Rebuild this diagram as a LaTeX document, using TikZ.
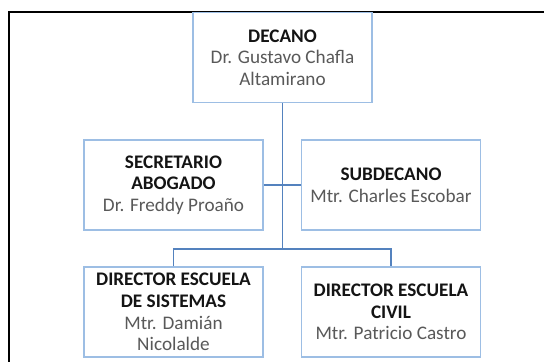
\documentclass[tikz,border=0pt]{standalone}
\usepackage{fontspec}
\setmainfont{Carlito}
\usepackage{tikz}
\usetikzlibrary{positioning}

\definecolor{bordeazul}{RGB}{157,190,228}
\definecolor{lineaazul}{RGB}{84,130,190}
\definecolor{grisnombre}{RGB}{89,89,89}
\definecolor{negrotitulo}{RGB}{20,20,20}

\tikzset{
	cargo/.style={draw=bordeazul, line width=1.1pt, fill=white, minimum width=134pt, minimum height=67.5pt, inner sep=0pt, align=center, font=\fontsize{14.4}{16.2}\selectfont},
	conector/.style={draw=lineaazul, line width=0.9pt},
	marco/.style={draw=black, line width=1.5pt}
}
\newcommand{\titulo}[1]{\textcolor{negrotitulo}{\textbf{#1}}}
\newcommand{\nombre}[1]{\textcolor{grisnombre}{#1}}

\begin{document}
\begin{tikzpicture}[x=0.75pt, y=-0.75pt]
	\useasboundingbox (0, 0) rectangle (544, 362);

	\coordinate (marcoder) at (544, 12);
	\coordinate (marcoinf) at (9, 362);
	\draw[marco] (marcoder) -| (marcoinf);

	\node[cargo] (decano) at (282.5, 57.5) {\titulo{DECANO}\\\nombre{Dr. Gustavo Chafla}\\\nombre{Altamirano}};
	\node[cargo] (secretario) at (173.5, 185) {\titulo{SECRETARIO}\\\titulo{ABOGADO}\\\nombre{Dr. Freddy Proaño}};
	\node[cargo] (subdecano) at (391, 185) {\titulo{SUBDECANO}\\\nombre{Mtr. Charles Escobar}};
	\node[cargo] (dirsistemas) at (173.5, 312) {\titulo{DIRECTOR ESCUELA}\\\titulo{DE SISTEMAS}\\\nombre{Mtr. Damián}\\\nombre{Nicolalde}};
	\node[cargo] (dircivil) at (391, 312) {\titulo{DIRECTOR ESCUELA}\\\titulo{CIVIL}\\\nombre{Mtr. Patricio Castro}};

	\coordinate (bus) at (282.5, 249);

	\draw[conector] (decano.south) -- (bus);
	\draw[conector] (secretario.east) -- (subdecano.west);
	\draw[conector] (dirsistemas.north) |- (bus) -| (dircivil.north);

\end{tikzpicture}
\end{document}
